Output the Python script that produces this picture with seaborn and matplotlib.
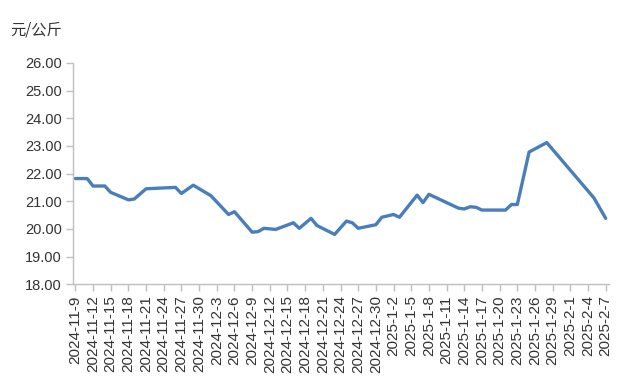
import matplotlib
matplotlib.use("Agg")
import matplotlib.pyplot as plt
import seaborn as sns
import pandas as pd

dates = ["2024-11-09", "2024-11-11", "2024-11-12", "2024-11-14", "2024-11-15",
         "2024-11-18", "2024-11-19", "2024-11-21", "2024-11-26", "2024-11-27",
         "2024-11-29", "2024-12-02", "2024-12-05", "2024-12-06", "2024-12-09",
         "2024-12-10", "2024-12-11", "2024-12-13", "2024-12-16", "2024-12-17",
         "2024-12-19", "2024-12-20", "2024-12-23", "2024-12-25", "2024-12-26",
         "2024-12-27", "2024-12-30", "2024-12-31", "2025-01-02", "2025-01-03",
         "2025-01-06", "2025-01-07", "2025-01-08", "2025-01-09", "2025-01-13",
         "2025-01-14", "2025-01-15", "2025-01-16", "2025-01-17", "2025-01-21",
         "2025-01-22", "2025-01-23", "2025-01-25", "2025-01-28", "2025-02-05",
         "2025-02-07"]
prices = [21.82, 21.82, 21.55, 21.55, 21.32,
          21.05, 21.08, 21.45, 21.50, 21.28,
          21.58, 21.20, 20.52, 20.62, 19.88,
          19.90, 20.02, 19.98, 20.22, 20.02,
          20.38, 20.12, 19.80, 20.28, 20.22,
          20.02, 20.15, 20.42, 20.52, 20.42,
          21.22, 20.95, 21.25, 21.15, 20.75,
          20.72, 20.80, 20.78, 20.68, 20.68,
          20.88, 20.88, 22.78, 23.12, 21.12,
          20.38]
y_ticks = [18, 19, 20, 21, 22, 23, 24, 25, 26]
unit_label = "元/公斤"

df = pd.DataFrame({"date": pd.to_datetime(dates), "price": prices})
tick_dates = pd.date_range("2024-11-09", "2025-02-07", freq="3D")
tick_labels = [f"{d.year}-{d.month}-{d.day}" for d in tick_dates]

sns.set_theme(style="white")
plt.rcParams["font.family"] = ["Liberation Sans", "Noto Sans CJK SC", "DejaVu Sans"]

fig = plt.figure(figsize=(6.36, 3.84), dpi=100)
ax = fig.add_axes([0.115, 0.260, 0.842, 0.576])
sns.lineplot(data=df, x="date", y="price", ax=ax, color="#4a7ebb", linewidth=2.4)

ax.set_ylim(18, 26)
ax.set_yticks(y_ticks)
ax.set_yticklabels([f"{v:.2f}" for v in y_ticks])
ax.set_xlim(pd.Timestamp("2024-11-08 15:00"), pd.Timestamp("2025-02-07 12:00"))
ax.set_xticks(tick_dates)
ax.set_xticklabels(tick_labels, rotation=90)
ax.set_xlabel("")
ax.set_ylabel("")

for s in ["top", "right"]:
    ax.spines[s].set_visible(False)
for s in ["left", "bottom"]:
    ax.spines[s].set_color("#bfbfbf")
    ax.spines[s].set_linewidth(1.0)
ax.tick_params(axis="both", which="major", length=5, width=1, color="#bfbfbf",
               labelcolor="#333333", direction="out", pad=3)
ax.tick_params(axis="y", left=True, labelsize=10.5)
ax.tick_params(axis="x", bottom=True, labelsize=11)

fig.text(0.016, 0.922, unit_label, fontsize=11, color="#333333",
         family=["Noto Sans CJK SC", "DejaVu Sans"], va="center", ha="left")

fig.savefig("out.png", dpi=100)
